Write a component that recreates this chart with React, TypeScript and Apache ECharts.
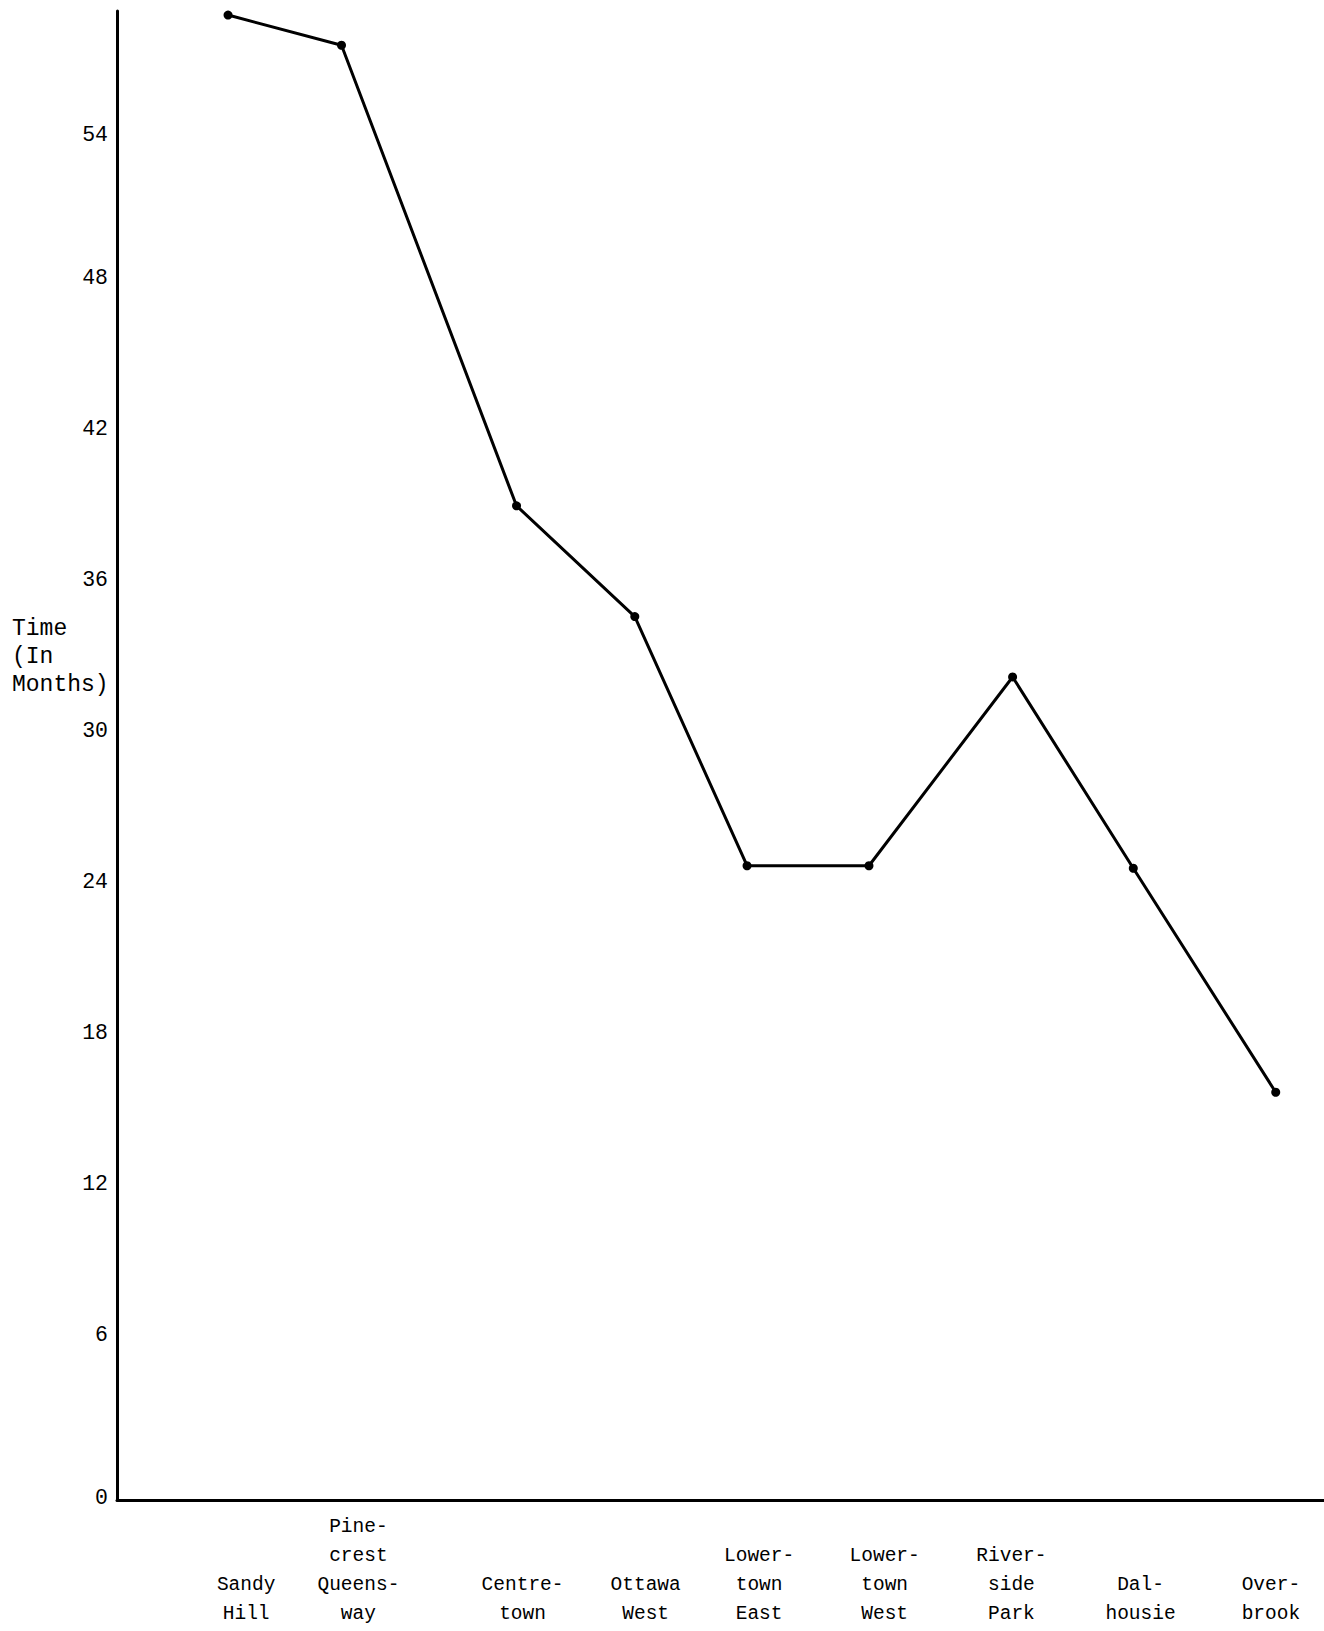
import React, { useEffect, useRef } from "react";
import * as echarts from "echarts";

// Neighbourhood names as typed under the axis
const categories = [
  "Sandy\nHill",
  "Pine-\ncrest\nQueens-\nway",
  "Centre-\ntown",
  "Ottawa\nWest",
  "Lower-\ntown\nEast",
  "Lower-\ntown\nWest",
  "River-\nside\nPark",
  "Dal-\nhousie",
  "Over-\nbrook",
];

// Time in months read from the plotted points
const monthValues = [59.0, 57.8, 39.5, 35.1, 25.2, 25.2, 32.7, 25.1, 16.2];

// Horizontal positions of the plotted points along the axis (axis runs 0..10)
const pointPositions = [0.92, 1.86, 3.31, 4.29, 5.22, 6.23, 7.42, 8.42, 9.6];

// Horizontal positions of the typed labels along the axis
const labelPositions = [1.07, 2.0, 3.36, 4.38, 5.32, 6.36, 7.41, 8.48, 9.56];

// Y tick labels
const yTickLabels = [0, 6, 12, 18, 24, 30, 36, 42, 48, 54];

const yMax = 59.16;
const FONT = "'Liberation Mono', 'DejaVu Sans Mono', monospace";

export default function App() {
  const ref = useRef<HTMLDivElement>(null);

  useEffect(() => {
    if (!ref.current) return;
    const chart = echarts.init(ref.current, null, { renderer: "svg" });
    const tickFont = { fontFamily: FONT, fontSize: 21.5, color: "#000" };
    const option = {
      animation: false,
      backgroundColor: "#ffffff",
      grid: { left: 117, right: 0, top: 11, bottom: 131, containLabel: false },
      xAxis: [
        {
          type: "value",
          min: 0,
          max: 10,
          position: "bottom",
          axisLine: { show: true, onZero: false, lineStyle: { color: "#000", width: 3 } },
          axisTick: { show: false },
          axisLabel: { show: false },
          splitLine: { show: false },
        },
        {
          type: "value",
          min: 0,
          max: 10,
          position: "bottom",
          axisLine: { show: false },
          axisTick: { show: false },
          splitLine: { show: false },
          axisLabel: {
            show: true,
            customValues: labelPositions,
            formatter: (v: number) => {
              const i = labelPositions.indexOf(v);
              return i >= 0 ? categories[i] : "";
            },
            fontFamily: FONT,
            fontSize: 19.5,
            lineHeight: 29,
            color: "#000",
            align: "center",
            verticalAlign: "bottom",
            margin: 128,
          },
        },
      ],
      yAxis: {
        type: "value",
        min: 0,
        max: yMax,
        interval: 6,
        axisLine: { show: true, lineStyle: { color: "#000", width: 3 } },
        axisTick: { show: false },
        splitLine: { show: false },
        axisLabel: {
          showMaxLabel: false,
          formatter: (v: number) => {
            if (yTickLabels.indexOf(v) < 0) return "";
            if (v === yTickLabels[0]) return "{lo|" + v + "}";
            if (v === yTickLabels[yTickLabels.length - 1]) return "{hi|" + v + "}";
            return "{mid|" + v + "}";
          },
          ...tickFont,
          lineHeight: 28,
          margin: 9,
          verticalAlign: "bottom",
          rich: {
            lo: { ...tickFont, lineHeight: 4 },
            hi: { ...tickFont, lineHeight: 12 },
            mid: { ...tickFont, lineHeight: 28 },
          },
        },
      },
      graphic: [
        {
          type: "text",
          left: 12,
          top: 615,
          style: {
            text: "Time\n(In\nMonths)",
            fontFamily: FONT,
            fontSize: 23,
            lineHeight: 28,
            fill: "#000",
            align: "left",
          },
        },
      ],
      series: [
        {
          type: "line",
          xAxisIndex: 0,
          data: pointPositions.map((x, i) => [x, monthValues[i]]),
          symbol: "circle",
          symbolSize: 9,
          lineStyle: { color: "#000", width: 3 },
          itemStyle: { color: "#000" },
        },
      ],
    };
    chart.setOption(option as any);
    return () => chart.dispose();
  }, []);

  return (
    <div
      ref={ref}
      style={{ position: "absolute", left: 0, top: 0, width: 1324, height: 1631 }}
    />
  );
}
